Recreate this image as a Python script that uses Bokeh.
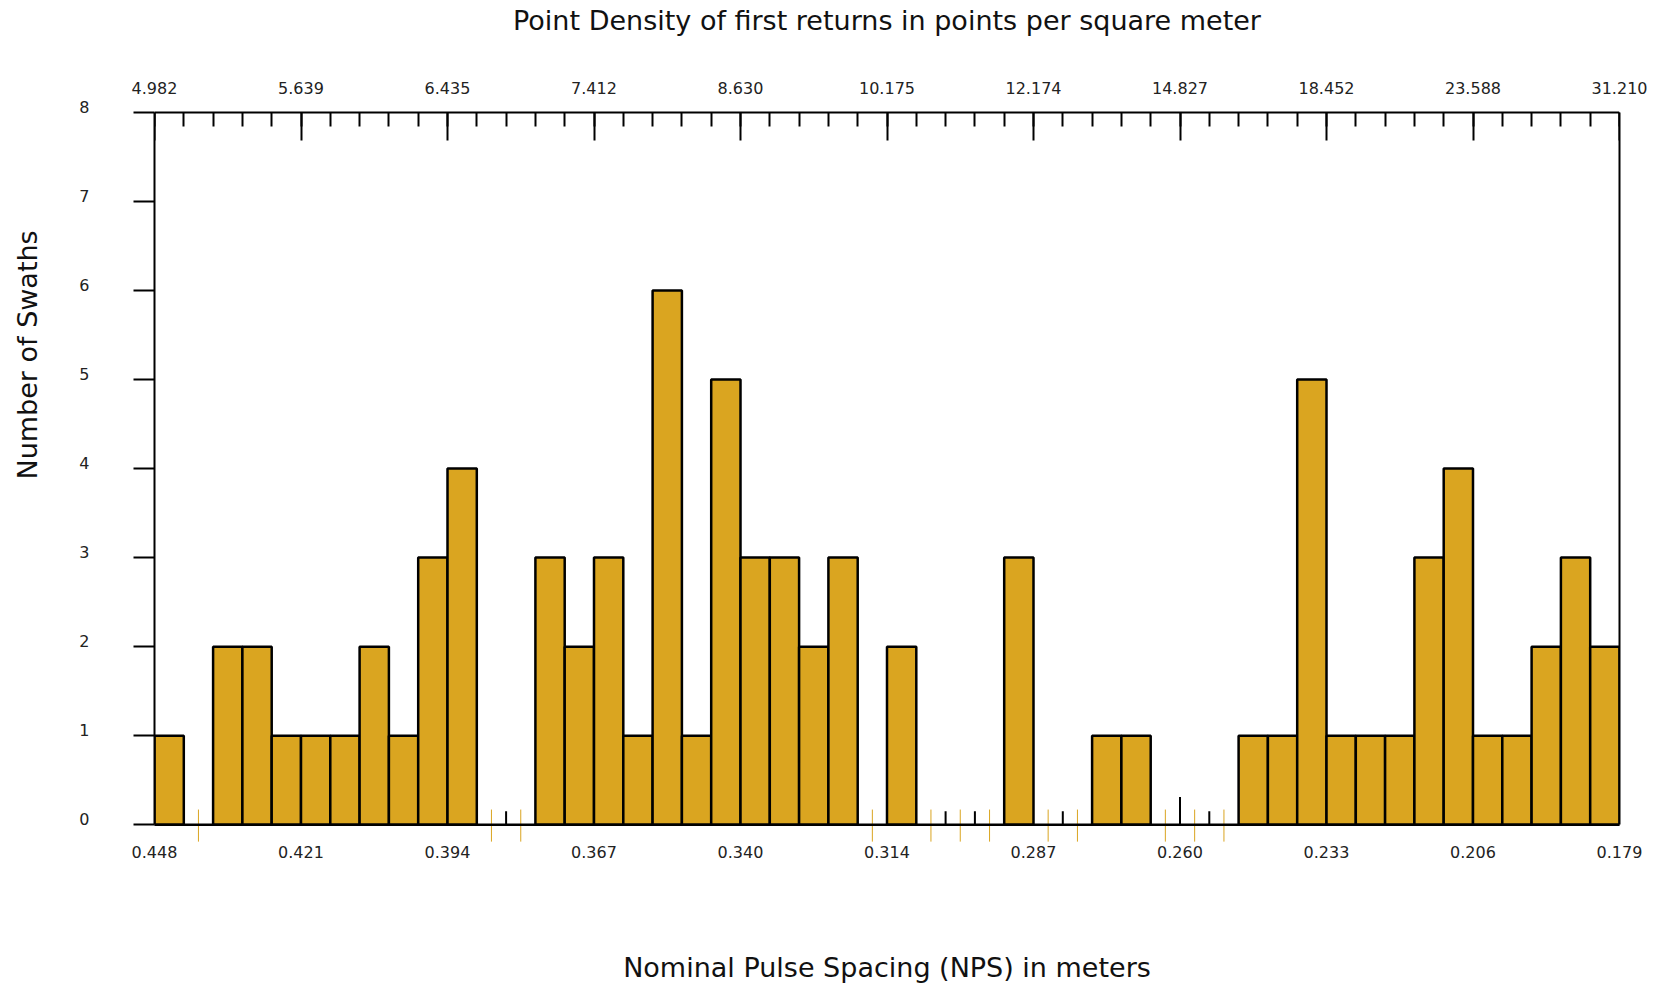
import numpy as np
from bokeh.plotting import figure
from bokeh.models import (Range1d, LinearAxis, FixedTicker, CustomJSTickFormatter,
                          Span, Title)
from bokeh.embed import file_html
from bokeh.resources import INLINE

# ---- data -------------------------------------------------------------
nps_left = 0.448      # NPS (m) at the left edge of the histogram
nps_right = 0.179     # NPS (m) at the right edge
n_bins = 50
counts = [1, 0, 2, 2, 1, 1, 1, 2, 1, 3,
          4, 0, 0, 3, 2, 3, 1, 6, 1, 5,
          3, 3, 2, 3, 0, 2, 0, 0, 0, 3,
          0, 0, 1, 1, 0, 0, 0, 1, 1, 5,
          1, 1, 1, 3, 4, 1, 1, 2, 3, 2]
bottom_labels = ["0.448", "0.421", "0.394", "0.367", "0.340", "0.314",
                 "0.287", "0.260", "0.233", "0.206", "0.179"]
top_labels = ["4.982", "5.639", "6.435", "7.412", "8.630", "10.175",
              "12.174", "14.827", "18.452", "23.588", "31.210"]
y_ticks = [0, 1, 2, 3, 4, 5, 6, 7, 8]
# heights of the small marks between neighbouring empty bins
empty_join_heights = [0.15, 0.15, 0.15, 0.15, 0.31, 0.15]

title_text = "Point Density of first returns in points per square meter"
x_title = "Nominal Pulse Spacing (NPS) in meters"
y_title = "Number of Swaths"

# ---- derived ----------------------------------------------------------
edges = np.linspace(nps_left, nps_right, n_bins + 1)
cnt = np.array(counts)
nz = cnt > 0
major = list(edges[::5])
centers = (edges[:-1] + edges[1:]) / 2
empty_centers = centers[cnt == 0]
join_idx = [i + 1 for i in range(n_bins - 1) if cnt[i] == 0 and cnt[i + 1] == 0]
join_x = edges[join_idx]

FONT = "DejaVu Sans"
GOLD = "#DAA520"
TXT = "#222222"

Y0, Y1 = -0.2, 8
LBL_SHIFT = 0.067   # y tick labels sit slightly above their ticks

p = figure(width=1661, height=986,
           x_range=Range1d(nps_left, nps_right),
           y_range=Range1d(Y0, Y1 + LBL_SHIFT),
           x_axis_type=None, y_axis_type=None,
           output_backend="svg", toolbar_location=None,
           min_border_left=153, min_border_right=42,
           min_border_top=106, min_border_bottom=144)
p.extra_y_ranges = {"lbl": Range1d(Y0 - LBL_SHIFT, Y1)}
p.outline_line_color = None
p.background_fill_color = "white"
p.border_fill_color = "white"

# gold marks at empty bins (drawn first, under the baseline)
p.segment(x0=empty_centers, y0=-0.19, x1=empty_centers, y1=0.17,
          line_color=GOLD, line_width=1)
# small black marks between adjacent empty bins
p.segment(x0=join_x, y0=0, x1=join_x, y1=empty_join_heights,
          line_color="black", line_width=2)

p.quad(left=edges[:-1][nz], right=edges[1:][nz], bottom=0, top=cnt[nz],
       fill_color=GOLD, line_color="black", line_width=2.5)

p.add_layout(Span(location=0, dimension="width", line_color="black",
                  line_width=2.5))

# left axis: line and ticks (its own labels are not painted)
ya = LinearAxis(ticker=FixedTicker(ticks=y_ticks), bounds=(0, 8),
                axis_line_width=2, major_tick_line_width=2,
                major_tick_out=21, major_tick_in=0,
                minor_tick_out=0, minor_tick_in=0,
                major_label_standoff=0, major_label_text_font_size="1px",
                major_label_text_color=None)
p.add_layout(ya, "left")
# left axis: tick labels
yl = LinearAxis(y_range_name="lbl", ticker=FixedTicker(ticks=y_ticks),
                axis_line_color=None, major_tick_out=0, major_tick_in=0,
                minor_tick_out=0, minor_tick_in=0,
                major_label_standoff=44,
                major_label_text_font=FONT, major_label_text_font_size="16px",
                major_label_text_color=TXT)
p.add_layout(yl, "left")
# spacer between the tick labels and the y title
p.add_layout(Title(text=" ", text_font_size="1px", standoff=20), "left")
p.add_layout(Title(text=y_title, align="left", offset=363, standoff=20,
                   vertical_align="middle",
                   text_font=FONT, text_font_size="27px", text_font_style="normal",
                   text_color="#111111"), "left")

# right axis (plain line)
ra = LinearAxis(ticker=FixedTicker(ticks=[]), bounds=(0, 8),
                axis_line_width=2, major_tick_out=0, major_tick_in=0,
                minor_tick_out=0, minor_tick_in=0,
                major_label_text_color=None)
p.add_layout(ra, "right")

fmt_code = """
let best = 0, d = 1e9;
for (let i = 0; i < pos.length; i++) {
  const e = Math.abs(pos[i] - tick);
  if (e < d) { d = e; best = i; }
}
return labels[best];
"""

# top axis line and inward ticks, at y = 8
ta_line = LinearAxis(ticker=FixedTicker(ticks=major, minor_ticks=list(edges)),
                     fixed_location=Y1,
                     axis_line_width=2, major_tick_line_width=2, minor_tick_line_width=2,
                     major_tick_in=28, major_tick_out=0,
                     minor_tick_in=14, minor_tick_out=0,
                     major_label_text_color=None)
p.add_layout(ta_line, "above")
# top axis labels (point density) with the chart title
ta = LinearAxis(ticker=FixedTicker(ticks=major, minor_ticks=[]),
                formatter=CustomJSTickFormatter(args=dict(pos=major, labels=top_labels),
                                                code=fmt_code),
                axis_line_color=None, major_tick_in=0, major_tick_out=0,
                minor_tick_in=0, minor_tick_out=0,
                major_label_standoff=13,
                major_label_text_font=FONT, major_label_text_font_size="16px",
                major_label_text_color=TXT,
                axis_label=title_text, axis_label_standoff=43,
                axis_label_text_font=FONT, axis_label_text_font_size="27px",
                axis_label_text_font_style="normal", axis_label_text_color="#111111")
p.add_layout(ta, "above")

# bottom axis (NPS)
ba = LinearAxis(ticker=FixedTicker(ticks=major, minor_ticks=[]),
                formatter=CustomJSTickFormatter(args=dict(pos=major, labels=bottom_labels),
                                                code=fmt_code),
                axis_line_color=None, major_tick_in=0, major_tick_out=0,
                minor_tick_in=0, minor_tick_out=0,
                major_label_standoff=3,
                major_label_text_font=FONT, major_label_text_font_size="16px",
                major_label_text_color=TXT,
                axis_label=x_title, axis_label_standoff=91,
                axis_label_text_font=FONT, axis_label_text_font_size="27px",
                axis_label_text_font_style="normal", axis_label_text_color="#111111")
p.add_layout(ba, "below")

open("out.html", "w").write(file_html(p, INLINE))
